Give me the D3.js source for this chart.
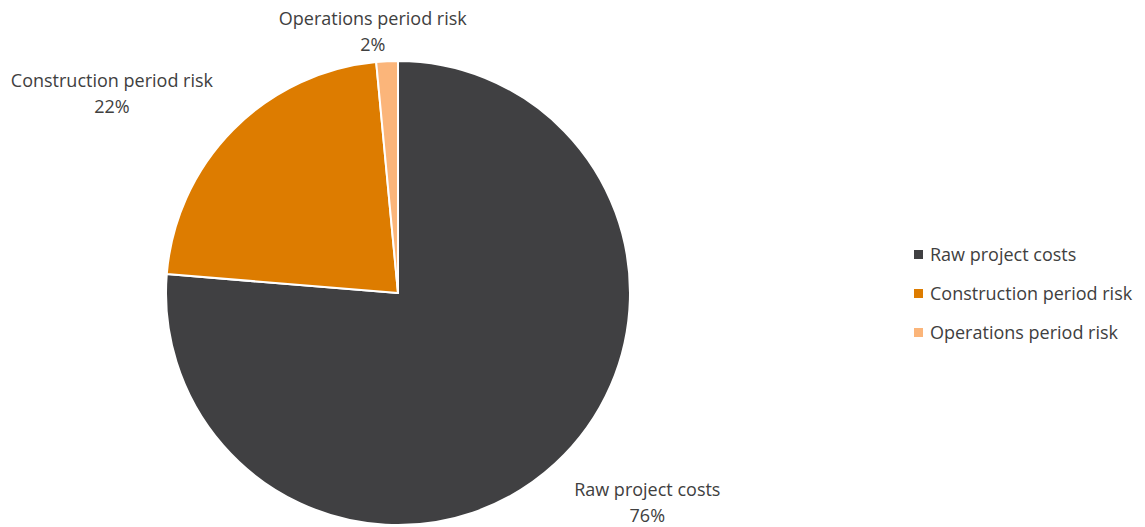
<!DOCTYPE html>
<html lang="en">
    <head>
        <meta charset="utf-8">
        <title>Project cost breakdown</title>
        <script type="text/javascript" src="https://cdnjs.cloudflare.com/ajax/libs/d3/7.8.5/d3.min.js"></script>
        <style>
            body { margin: 0; background: #fff; }
            text { font-family: "Open Sans", "DejaVu Sans", sans-serif; fill: #404040; }
        </style>
    </head>
    <body>
        <div id="chart"></div>
        <script type="text/javascript">
            // slice data (percent of total)
            var categories = ["Raw project costs", "Construction period risk", "Operations period risk"];
            var values = [76.3, 22.2, 1.5];
            var pctLabels = ["76%", "22%", "2%"];
            var colors = ["#404042", "#dd7c00", "#fbb57a"];

            var width = 1145;
            var height = 527;
            var cx = 398, cy = 293, radius = 232;

            var svg = d3.select("#chart")
                .append("svg")
                .attr("width", width)
                .attr("height", height);

            var pie = d3.pie().sort(null).value(function(d){ return d; });
            var arc = d3.arc().innerRadius(0).outerRadius(radius);
            var arcs = pie(values);

            var g = svg.append("g").attr("transform", "translate(" + cx + "," + cy + ")");

            g.selectAll("path")
                .data(arcs)
                .enter()
                .append("path")
                .attr("d", arc)
                .attr("fill", function(d, i){ return colors[i]; })
                .attr("stroke", "#fff")
                .attr("stroke-width", 2)
                .attr("stroke-linejoin", "round");

            // outside-end labels, box pushed away from the pie
            arcs.forEach(function(d, i){
                var a = (d.startAngle + d.endAngle) / 2;
                var sx = Math.sin(a), sy = -Math.cos(a);
                var kx = Math.max(-1, Math.min(1, sx * 3));
                var ky = Math.max(-1, Math.min(1, sy * 3));
                // corner-anchored labels sit a bit further out than edge-anchored ones
                var labelR = radius + 6 + 16 * Math.abs(kx);
                var px = labelR * sx + 4 * kx, py = labelR * sy;
                var t = g.append("text").attr("text-anchor", "middle").style("font-size", "18px");
                t.append("tspan").attr("x", 0).attr("dy", 0).text(categories[i]);
                t.append("tspan").attr("x", 0).attr("dy", 26).text(pctLabels[i]);
                var bb = t.node().getBBox();
                var ccx = px + kx * bb.width / 2;
                var ccy = py + ky * (bb.height / 2 - 3);
                var shiftY = ccy - (bb.y + bb.height / 2);
                t.attr("transform", "translate(" + ccx + "," + shiftY + ")");
            });

            // legend
            var legend = svg.append("g").attr("transform", "translate(914,255)");
            var item = legend.selectAll("g")
                .data(categories)
                .enter()
                .append("g")
                .attr("transform", function(d, i){ return "translate(0," + i * 39 + ")"; });
            item.append("rect")
                .attr("x", 0).attr("y", -5)
                .attr("width", 9).attr("height", 9)
                .attr("fill", function(d, i){ return colors[i]; });
            item.append("text")
                .attr("x", 16).attr("dy", "0.35em")
                .style("font-size", "18px")
                .text(function(d){ return d; });
        </script>
    </body>
</html>
